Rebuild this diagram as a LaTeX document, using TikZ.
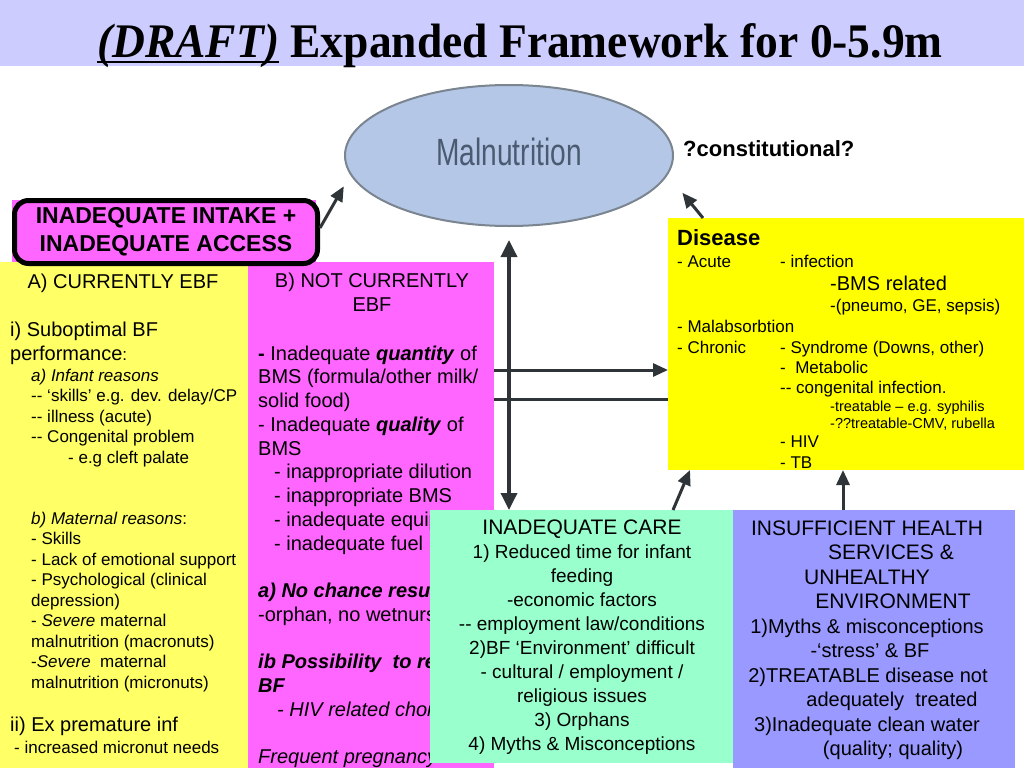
\documentclass[tikz,border=0pt]{standalone}
\usepackage{fontspec}
\setmainfont{Liberation Sans}
\newfontfamily\titlefont{Liberation Serif}
\usepackage{graphicx}
\usetikzlibrary{shapes.geometric,arrows.meta}

\definecolor{titlebar}{HTML}{CCCCFF}
\definecolor{intakepink}{HTML}{FF66FF}
\definecolor{ebfyellow}{HTML}{FFFF66}
\definecolor{diseaseyellow}{HTML}{FFFF00}
\definecolor{careaqua}{HTML}{99FFCC}
\definecolor{healthblue}{HTML}{9999FF}
\definecolor{malblue}{HTML}{B4C7E7}
\definecolor{malrim}{HTML}{7A8590}
\definecolor{maltext}{HTML}{4A5A70}
\definecolor{arrowgray}{HTML}{2E3438}

\newcommand{\fs}[2]{\fontsize{#1}{#2}\selectfont}
\newcommand{\draftul}[1]{\setbox0\hbox{#1}\rlap{\rule[-5pt]{\wd0}{2.5pt}}\box0\relax}

\begin{document}
\begin{tikzpicture}[x=1pt,y=-1pt,
  box/.style={anchor=north west, inner sep=0pt, outer sep=0pt},
  txt/.style={anchor=base west, inner sep=0pt, font=\fs{17}{20}},
  ctxt/.style={anchor=base, inner sep=0pt, font=\fs{19}{23}},
  hd/.style={anchor=base, inner sep=0pt, font=\fs{20}{24}},
  arr/.style={draw=arrowgray, line width=3pt, -{Triangle[length=15pt,width=13pt]}},
  dbl/.style={draw=arrowgray, line width=3.5pt, {Triangle[length=17pt,width=16pt]}-{Triangle[length=17pt,width=16pt]}}]
  \useasboundingbox (0,0) rectangle (1024,768);

  % Title
  \fill[titlebar] (0,0) rectangle (1024,66);
  \node[anchor=base, inner sep=0pt, font=\titlefont\bfseries\fs{45.5}{50}] (title) at (520,58)
    {\scalebox{1}[1.06]{\draftul{\textit{(DRAFT)}} Expanded Framework for 0-5.9m}};

  % Malnutrition
  \node[ellipse, fill=malblue, draw=malrim, line width=2pt, minimum width=328pt, minimum height=141pt,
    inner sep=0pt, font=\fs{38}{40}, text=maltext] (mal) at (509,155.5)
    {\raisebox{8pt}{\scalebox{0.74}[1]{Malnutrition}}};
  \node[anchor=base west, inner sep=0pt, font=\bfseries\fs{22}{26}] (const) at (683,156) {?constitutional?};

  % EBF boxes
  \node[box, fill=ebfyellow, minimum width=248pt, minimum height=506pt] (ebfA) at (0,262) {};
  \node[box, fill=intakepink, minimum width=246pt, minimum height=506pt] (ebfB) at (248,262) {};

  \node[hd] (hdA) at (123,288) {A) CURRENTLY EBF};
  \foreach \y/\x/\lbl [count=\i] in {
    336/10/{\fs{20}{24}i) Suboptimal BF},
    360/10/{{\fs{20}{24}performance}:},
    381/31/{\itshape a) Infant reasons},
    401.5/31/{-{}- ‘skills’ e.g. dev. delay/CP},
    422/31/{-{}- illness (acute)},
    442.5/31/{-{}- Congenital problem},
    463/68/{- e.g cleft palate},
    524/31/{\textit{b) Maternal reasons}:},
    544.5/31/{- Skills},
    565/31/{- Lack of emotional support},
    585.5/31/{- Psychological (clinical},
    606/31/{depression)},
    626.5/31/{- \textit{Severe} maternal},
    647/31/{malnutrition (macronuts)},
    667.5/31/{-\textit{Severe}\ \ maternal},
    688/31/{malnutrition (micronuts)},
    731/10/{\fs{20}{24}ii) Ex premature inf},
    753/14/{- increased micronut needs}}
    \node[txt] (a\i) at (\x,\y) {\lbl};

  \node[hd] (hdB1) at (372,287) {B) NOT CURRENTLY};
  \node[hd] (hdB2) at (372,311) {EBF};
  \foreach \y/\x/\lbl [count=\i] in {
    360/258/{\textbf{-} Inadequate \textbf{\textit{quantity}} of},
    383.75/258/{BMS (formula/other milk/},
    407.5/258/{solid food)},
    431.25/258/{- Inadequate \textbf{\textit{quality}} of},
    455/258/{BMS},
    478.75/274/{- inappropriate dilution},
    502.5/274/{- inappropriate BMS},
    526.25/274/{- inadequate equipment},
    550/274/{- inadequate fuel},
    597.5/258/{\bfseries\itshape a) No chance resumption},
    621.25/258/{-orphan, no wetnurse},
    668.75/258/{\bfseries\itshape ib Possibility\ \ to resume},
    692.5/258/{\bfseries\itshape BF},
    716.25/277/{\itshape - HIV related choice},
    763.75/258/{\itshape Frequent pregnancy}}
    \node[txt, font=\fs{20}{24}] (b\i) at (\x,\y) {\lbl};

  % Intake box
  \fill[intakepink] (12,200) rectangle (316,262);
  \node[draw, line width=5pt, rounded corners=14pt, fill=intakepink, minimum width=303pt, minimum height=63pt,
    align=center, inner sep=0pt, font=\bfseries\fs{23}{28}] (intake) at (166,232)
    {INADEQUATE INTAKE +\\INADEQUATE ACCESS};

  % Disease
  \node[box, fill=diseaseyellow, minimum width=356pt, minimum height=252pt] (disease) at (668,218) {};
  \foreach \y/\x/\lbl [count=\i] in {
    245/677/{\bfseries\fs{22}{26}Disease},
    267/677/{- Acute}, 267/780/{- infection},
    290/830/{\fs{20}{24}-BMS related},
    311/830/{-(pneumo, GE, sepsis)},
    332/677/{- Malabsorbtion},
    353/677/{- Chronic}, 353/780/{- Syndrome (Downs, other)},
    373/780/{-\ \ Metabolic},
    393/780/{-{}- congenital infection.},
    411/830/{\fs{14.5}{17}-treatable – e.g. syphilis},
    428/830/{\fs{14.5}{17}-??treatable-CMV, rubella},
    447/780/{- HIV},
    468/780/{- TB}}
    \node[txt] (d\i) at (\x,\y) {\lbl};

  % Care
  \node[box, fill=careaqua, minimum width=303pt, minimum height=253pt] (care) at (430,510) {};
  \foreach \y/\lbl [count=\i] in {
    534.5/{\fs{21}{25}INADEQUATE CARE},
    558.5/{1) Reduced time for infant},
    582.5/{feeding},
    606.5/{-economic factors},
    630.5/{-{}- employment law/conditions},
    654.5/{2)BF ‘Environment’ difficult},
    678.5/{- cultural / employment /},
    702.5/{religious issues},
    726.5/{3) Orphans},
    750.5/{4) Myths \& Misconceptions}}
    \node[ctxt] (c\i) at (582,\y) {\lbl};

  % Health services
  \node[box, fill=healthblue, minimum width=282pt, minimum height=258pt] (health) at (733,510) {};
  \foreach \y/\x/\lbl [count=\i] in {
    535/867/{\fs{21}{25}INSUFFICIENT HEALTH},
    559.5/891/{\fs{21}{25}SERVICES \&},
    584/867/{\fs{21}{25}UNHEALTHY},
    608.5/893/{\fs{21}{25}ENVIRONMENT},
    633/867/{1)Myths \& misconceptions},
    657.5/870/{-‘stress’ \& BF},
    682/868/{2)TREATABLE disease not},
    706.5/892/{adequately\ \ treated},
    731/867/{3)Inadequate clean water},
    755.5/893/{(quality; quality)}}
    \node[ctxt, font=\fs{20}{24}] (h\i) at (\x,\y) {\lbl};

  % Arrows
  \draw[arr, shorten >=13pt] ([yshift=4pt]intake.east) -- (mal.187);
  \draw[dbl, shorten >=13pt] (mal.south |- care.north) -- (mal.south);
  \draw[arr] ([yshift=-26pt]disease.west -| ebfB.east) -- ([yshift=-26pt]disease.west);
  \draw[draw=arrowgray, line width=3pt] ([yshift=-55pt]disease.west -| ebfB.east) -- ([yshift=-55pt]disease.west);
  \draw[arr, shorten >=23pt] ([xshift=35pt]disease.north west) -- (mal.-7);
  \draw[arr] ([xshift=-60pt]care.north east) -- ([xshift=22pt]disease.south west);
  \draw[arr] ([xshift=-31pt]health.north) -- ([xshift=-31pt]health.north |- disease.south);
\end{tikzpicture}
\end{document}
